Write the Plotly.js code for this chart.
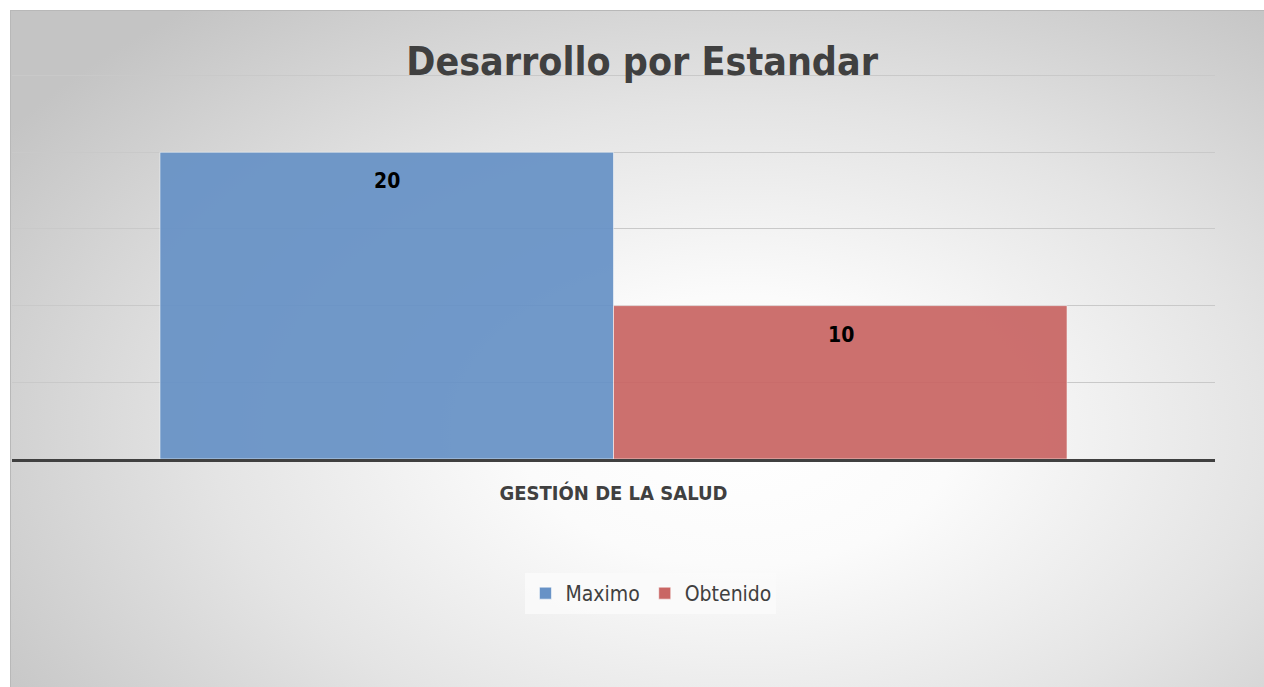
<!DOCTYPE html>
<html><head><meta charset="utf-8">
<script src="https://cdn.plot.ly/plotly-3.0.1.min.js"></script>
<style>
html,body{margin:0;padding:0;background:#fff;width:1264px;height:687px;overflow:hidden;}
#bg{position:absolute;left:10px;top:10px;width:1254px;height:677px;border-left:1px solid #b8b8b8;border-top:1px solid #b8b8b8;
background:radial-gradient(ellipse 70% 80% at 58% 62%, #ffffff 0%, #fbfbfb 25%, #e4e4e4 60%, #c4c4c4 100%);}
#chart{position:absolute;left:0;top:0;width:1264px;height:687px;}
</style></head>
<body><div id="bg"></div><div id="chart"></div>
<script>
const categories = ["GESTIÓN DE LA SALUD"];
const seriesNames = ["Maximo", "Obtenido"];
const maximoValues = [20];
const obtenidoValues = [10];
const seriesColors = ["#6792C6", "#C96664"];
const gridValues = [5, 10, 15, 20, 25];

const fontFam = "'Liberation Sans Narrow', 'DejaVu Sans Condensed', 'Liberation Sans', Arial, sans-serif";
const valuesBySeries = [maximoValues, obtenidoValues];

const traces = valuesBySeries.map((vals, i) => ({
  type: 'bar', name: seriesNames[i], x: categories, y: vals,
  marker: {color: seriesColors[i], opacity: 0.93, line: {color: 'rgba(255,255,255,0.55)', width: 1}},
  hoverinfo: 'none'
}));

const shifts = [-227, 227];
const annotations = [];
valuesBySeries.forEach((vals, i) => vals.forEach((v, j) => annotations.push({
  x: categories[j], y: v, xref: 'x', yref: 'y', text: '<b>' + v + '</b>', showarrow: false,
  xshift: shifts[i], yshift: -29, font: {family: fontFam, size: 21, color: '#000'}
})));

const layout = {
  width: 1264, height: 687,
  paper_bgcolor: 'rgba(0,0,0,0)', plot_bgcolor: 'rgba(0,0,0,0)',
  margin: {l: 12, r: 49, t: 71, b: 228},
  barmode: 'group', bargap: 0.246, bargroupgap: 0,
  showlegend: true,
  title: {text: '<b>Desarrollo por Estandar</b>', x: 0.508, xref: 'container', xanchor: 'center',
    y: 0.91, yref: 'container', yanchor: 'middle', font: {family: fontFam, size: 39, color: '#404040'}},
  xaxis: {showline: true, linecolor: '#404040', linewidth: 3, showgrid: false, ticks: '',
    ticklabelstandoff: 14, tickfont: {family: fontFam, size: 20, color: '#404040'},
    tickvals: categories, ticktext: categories.map(c => '<b>' + c + '</b>')},
  yaxis: {range: [0, 25.3], tickvals: gridValues, showticklabels: false, showgrid: true, gridcolor: '#c9c9c9', gridwidth: 1,
    zeroline: false, showline: false},
  legend: {orientation: 'h', xref: 'container', yref: 'container', x: 0.515, xanchor: 'center', y: 1 - 573/687, yanchor: 'top',
    bgcolor: 'rgba(250,250,250,0.85)', font: {family: fontFam, size: 21, color: '#404040'}, itemwidth: 20},
  annotations: annotations
};
Plotly.newPlot('chart', traces, layout, {displayModeBar: false, staticPlot: true});
</script></body></html>
